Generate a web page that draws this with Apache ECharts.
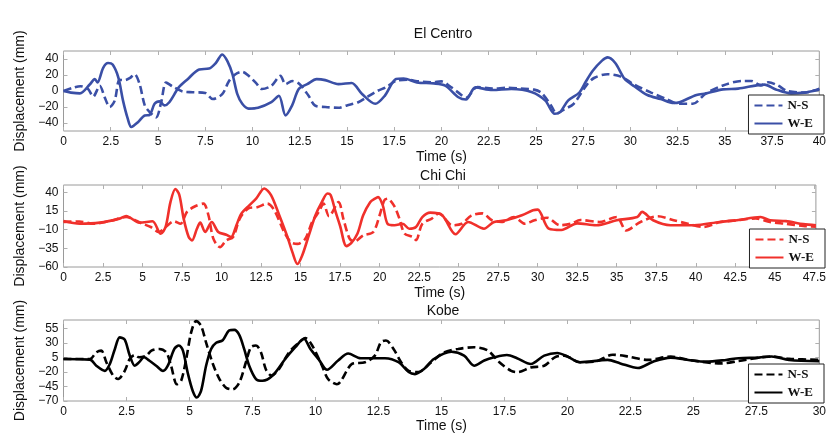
<!DOCTYPE html>
<html>
<head>
<meta charset="utf-8">
<script src="https://cdn.jsdelivr.net/npm/echarts@6/dist/echarts.min.js"></script>
<style>html,body{margin:0;padding:0;background:#fff}#c{width:829px;height:443px}</style>
</head>
<body>
<div id="c"></div>
<script>
// ---------- data ----------
const titles = ['El Centro', 'Chi Chi', 'Kobe'];
const legendNames = ['N-S', 'W-E'];

const elCentroNS_t = [0,0.5,0.9,1.3,1.57,1.92,2.18,2.45,2.71,2.97,3.24,3.5,3.76,4.03,4.3,4.55,4.9,5.17,5.43,5.78,6.3,6.83,7.5,7.9,8.4,8.76,9.1,9.46,9.8,10.17,10.5,11.0,11.48,11.75,12.1,12.5,12.97,13.3,13.85,14.55,15.0,15.6,16.1,16.6,17.1,17.6,18.2,18.8,19.5,20.0,20.5,20.9,21.3,21.9,22.7,23.5,24.2,24.9,25.3,25.8,26.1,26.5,27.0,27.7,28.1,28.8,29.5,30.2,31.1,31.9,32.6,33.3,34.0,34.9,35.9,36.4,36.9,37.3,37.8,38.3,39.2,40];
const elCentroNS_v = [0,4,6,2.5,-7,6.5,-8,-20,-12,14,13.5,16,21,8.5,-18,-26,-33,-14,10.5,5.5,-0.5,-1.5,-2.5,-10,-4,12.5,21,24,19,10.5,2.5,6.5,19,8.5,12.5,8.5,-6,-18,-20,-21,-18,-14,-7,0,5,12.8,14,12,11,12,5,-2,-8.5,5,3,4,3,1.7,-2.4,-18,-28,-23,-16,8,16.6,21,18,8,-2,-10,-16,-16,-3,7,12.5,12.5,7,11,7,0,-2,3];
const elCentroWE_t = [0,0.4,0.87,1.4,1.66,1.8,2.1,2.36,2.6,2.9,3.15,3.4,3.59,3.94,4.3,4.55,4.82,5.08,5.34,5.6,6.1,6.57,7.18,7.7,8.06,8.4,8.68,8.94,9.2,9.46,9.8,10.3,11.0,11.4,11.75,12.1,12.45,12.9,13.4,13.85,14.55,15.25,15.8,16.5,17.0,17.6,18.0,18.7,19.6,20.2,20.9,21.3,21.8,22.7,23.7,24.8,25.5,26.0,26.3,26.7,27.3,27.6,28.0,28.5,28.8,29.2,29.7,30.2,30.9,31.6,32.3,32.6,33.5,34.0,34.9,35.7,37.1,37.7,38.5,39.2,40];
const elCentroWE_v = [0,-2,-3,8.5,14.8,10.7,29,35,33,17,-12,-34.6,-45,-39,-30.5,-30,-16,-13,-18,-14,4.5,14.8,27,28,35,45.7,37,21,-4,-16,-22,-21,-14,-6,-30.5,-18,2.6,8.6,14.8,13.6,8.6,10,-3.7,-16,-6,15,15.6,10.7,9.5,6.7,-7.8,-10.7,4.5,1.2,2.5,-1.5,-12,-28.5,-26,-12,-2,10,25,38,42,35,15,6,-5,-10,-15,-14,-5,-3,2,3,8,2,-3,-2,2];

const chiChiNS_t = [0,1.0,1.9,3.0,3.96,5.0,5.52,6.04,6.46,6.98,7.4,7.81,8.33,8.85,9.17,9.48,9.9,10.3,10.73,11.15,11.67,12.3,12.9,13.34,13.96,14.38,14.8,15.3,15.73,16.15,16.45,16.8,17.4,17.7,18.1,18.4,18.96,19.6,20.0,20.3,20.5,20.9,21.25,21.57,22.1,22.3,22.7,23.3,23.75,24.6,25.2,25.8,26.5,27.1,27.7,28.5,29.2,29.8,30.6,31.4,32.1,32.7,33.9,35.0,35.6,36.5,37.6,38.6,39.5,40.5,41.5,42.6,43.8,44.7,45.7,46.8,47.6];
const chiChiNS_v = [0.5,1,-2,2,7,-2,-6.3,-13,-6.3,1.3,-2,14,21.5,25,9.4,-22,-33.4,-24.3,-19.8,4.9,18.4,20.6,25,16,-13,-26.6,-29,-22,0.4,14,25,8,27,5,-22,-26,-17.6,-13,9.4,29.5,31.6,22.6,5,-15,-19.8,-24,-2,5,12,-4,-2,9,12,2.7,0.4,7,-2,2.7,6,-4,-2,3,0.4,7,-11,0.4,8,2.7,-2,-6.3,0,2.7,5,0.4,-2,-4.9,-6];
const chiChiWE_t = [0,1.04,2.3,3.54,3.96,4.8,5.63,6.15,6.46,6.77,7.08,7.33,7.6,7.92,8.13,8.44,8.65,8.96,9.38,9.79,10.3,10.6,10.94,11.25,11.77,12.2,12.7,13.13,13.65,14.17,14.48,14.8,15.1,15.52,15.94,16.35,16.7,16.9,17.2,17.5,17.9,18.2,18.6,18.96,19.4,19.7,19.9,20.2,20.5,20.94,21.46,21.87,22.3,22.7,23.2,23.96,24.8,25.6,26.6,27.2,28.0,29.0,29.7,30.0,30.7,31.5,32.5,33.7,35.0,36.3,36.6,37.3,38.4,39.9,41.5,42.6,44.1,44.7,45.7,46.8,47.6];
const chiChiWE_v = [1.8,-1.9,-0.5,4.9,8.5,-0.5,1.3,-15.4,-6.3,27.4,44.6,36.5,4.9,-19.8,-24.3,-8.6,-0.5,-13,0.4,-13,-16.7,-19.8,-4,11.6,23,32,45.4,36.5,9.4,-19.8,-40,-56,-44.6,-17.6,9.4,27.4,38.6,36.5,15,-5,-32,-28,-15,9.4,27,31.6,33.8,22.6,-2,-4,-2,-8.6,-6.3,7,13,9.4,-16,0.4,-8.6,0,2.7,9.4,16,17,-8.6,-10.4,-1.5,-4,2.7,7,14,2.7,-4,-4,0.4,2.7,7,2.7,1.5,-2.5,-4];

const kobeNS_t = [0,1.05,1.3,1.5,1.7,1.97,2.17,2.43,2.63,2.83,3.0,3.29,3.49,3.8,4.08,4.27,4.5,4.67,4.87,5.07,5.26,5.46,5.66,5.93,6.19,6.45,6.71,6.98,7.24,7.44,7.64,7.84,8.03,8.25,8.55,8.95,9.35,9.6,9.87,10.26,10.5,10.85,11.45,11.97,12.36,12.6,12.8,13.1,13.4,13.7,14.08,14.6,15.1,15.66,16.3,16.85,17.3,17.77,18.03,18.55,19.08,19.5,19.87,20.5,21.1,21.8,22.4,23.2,24.1,24.8,26.1,26.8,28.1,28.8,30];
const kobeNS_v = [2.6,2.6,14,17,-3,-26,-32,-18,2.6,9.5,5.5,8.5,17,20,14,-9,-41,-35,2.6,49,68,60,31,-6,-32,-47,-50,-38,-3,23,26,14,-15,-26,-15,14,31,38.6,26,-9,-32,-41,-6,-3,8.5,31.7,34.6,20,-3,-18,-20,-3,14,20,23,17,-3,-18,-20,-12,-9,5.5,8.5,-3,-2,10,7,1,7,1,-5,-1,7,3,1];
const kobeWE_t = [0,1.05,1.3,1.64,1.84,2.04,2.23,2.43,2.63,2.83,3.0,3.2,3.4,3.68,3.95,4.14,4.4,4.58,4.74,4.94,5.13,5.29,5.46,5.66,5.86,6.06,6.32,6.58,6.78,6.98,7.17,7.37,7.64,7.9,8.3,8.8,9.2,9.54,9.8,10.13,10.46,10.9,11.3,11.8,12.76,13.3,13.7,13.95,14.3,14.7,15.4,15.9,16.3,16.7,17.1,17.6,18.0,18.55,19.08,19.6,20.0,20.5,21.6,22.1,22.8,23.4,24.1,24.8,25.5,26.3,26.8,27.6,28.1,28.8,30];
const kobeWE_v = [2.6,1.5,-9,-18,-6,20,40,36,8.5,-9,-3,5.5,0,-9,-18,-9,20,26,17,-23,-52.6,-64,-52.6,-9,20,30.6,35,52,53,44,20,-9,-32,-35,-26,2.6,23,37.6,20,2,-16,0,12,4,4,-3,-20,-23.5,-15,2.6,15,8.5,-9,0,5.5,9.5,4,-6,8.5,13,7,-3,1,-5,-13,-2,5,1,-2,1,4,5,7,1,-1];

// axis ranges and tick labels
const xMax = [40, 47.6, 30];
const yMin = [-50, -60, -70];
const yMax = [50, 50, 70];
const xTicks = [
  [0,2.5,5,7.5,10,12.5,15,17.5,20,22.5,25,27.5,30,32.5,35,37.5,40],
  [0,2.5,5,7.5,10,12.5,15,17.5,20,22.5,25,27.5,30,32.5,35,37.5,40,42.5,45,47.5],
  [0,2.5,5,7.5,10,12.5,15,17.5,20,22.5,25,27.5,30]
];
const yTicks = [
  [-40,-20,0,20,40],
  [-60,-35,-10,15,40],
  [-70,-45,-20,5,30,55]
];
const colors = ['#3a4fa6', '#f0302b', '#000000'];

// ---------- chart ----------
const pairs = (t, v) => t.map((x, i) => [x, v[i]]);
const seriesData = [
  [pairs(elCentroNS_t, elCentroNS_v), pairs(elCentroWE_t, elCentroWE_v)],
  [pairs(chiChiNS_t, chiChiNS_v), pairs(chiChiWE_t, chiChiWE_v)],
  [pairs(kobeNS_t, kobeNS_v), pairs(kobeWE_t, kobeWE_v)]
];

const gridTops = [51, 185, 320];
const gridHeights = [80, 82, 81];
const gridRights = [5, 4, 5];
const titleTops = [27, 169, 304];
const nameGapsX = [19, 19, 16];
const legendTops = [95, 229, 364];
const legendRights = [5, 4, 5];

const FONT = 'Liberation Sans, Arial, sans-serif';
const minus = v => (v < 0 ? '\u2212' + Math.abs(v) : String(v));

const grid = [], xAxis = [], yAxis = [], series = [], legend = [], title = [];
for (let p = 0; p < 3; p++) {
  grid.push({ left: 63.5, right: gridRights[p], top: gridTops[p], height: gridHeights[p],
    show: true, borderColor: '#9a9a9a', borderWidth: 1, backgroundColor: '#fff' });
  title.push({ text: titles[p], left: 443, top: titleTops[p], textAlign: 'center', padding: 0,
    textStyle: { fontFamily: FONT, fontSize: 14, fontWeight: 'normal', color: '#111' } });
  const tickStyle = { show: true, inside: true, length: 4, lineStyle: { color: '#b0b0b0', width: 1 } };
  const noLine = { show: false, onZero: false };
  xAxis.push({ type: 'value', gridIndex: p, min: 0, max: xMax[p], position: 'bottom',
    axisLine: noLine, splitLine: { show: false },
    axisTick: Object.assign({ customValues: xTicks[p] }, tickStyle),
    axisLabel: { customValues: xTicks[p], color: '#111', fontFamily: FONT, fontSize: 12, margin: 5 },
    name: 'Time (s)', nameLocation: 'middle', nameGap: nameGapsX[p],
    nameTextStyle: { fontFamily: FONT, fontSize: 14, color: '#111' } });
  xAxis.push({ type: 'value', gridIndex: p, min: 0, max: xMax[p], position: 'top',
    axisLine: noLine, splitLine: { show: false },
    axisTick: Object.assign({ customValues: xTicks[p] }, tickStyle),
    axisLabel: { show: false } });
  yAxis.push({ type: 'value', gridIndex: p, min: yMin[p], max: yMax[p], position: 'left',
    axisLine: noLine, splitLine: { show: false },
    axisTick: Object.assign({ customValues: yTicks[p] }, tickStyle),
    axisLabel: { customValues: yTicks[p], color: '#111', fontFamily: FONT, fontSize: 12, margin: 5, formatter: minus },
    name: 'Displacement (mm)', nameLocation: 'middle', nameGap: 31,
    nameTextStyle: { fontFamily: FONT, fontSize: 14, color: '#111' } });
  yAxis.push({ type: 'value', gridIndex: p, min: yMin[p], max: yMax[p], position: 'right',
    axisLine: noLine, splitLine: { show: false },
    axisTick: Object.assign({ customValues: yTicks[p] }, tickStyle),
    axisLabel: { show: false } });
  const names = legendNames.map(n => n + '|' + p);
  for (let s = 0; s < 2; s++) {
    series.push({ type: 'line', name: names[s], xAxisIndex: 2 * p, yAxisIndex: 2 * p,
      data: seriesData[p][s], symbol: 'none', smooth: 0.3,
      lineStyle: { color: colors[p], width: 2.6, type: s === 0 ? [8, 4] : 'solid' },
      itemStyle: { color: colors[p] } });
  }
  legend.push({ data: names, orient: 'vertical', right: legendRights[p], top: legendTops[p],
    itemWidth: 28, itemHeight: 12, itemGap: 5, padding: [4, 11, 4, 5],
    borderColor: '#222', borderWidth: 1, backgroundColor: '#fff', borderRadius: 0,
    itemStyle: { opacity: 0 },
    formatter: n => n.split('|')[0], selectedMode: false,
    textStyle: { fontFamily: 'Liberation Serif, Times New Roman, serif', fontWeight: 'bold', fontSize: 13, color: '#111' } });
}

const chart = echarts.init(document.getElementById('c'), null, { renderer: 'canvas' });
chart.setOption({ animation: false, backgroundColor: '#fff', title, grid, xAxis, yAxis, series, legend });
</script>
</body>
</html>
